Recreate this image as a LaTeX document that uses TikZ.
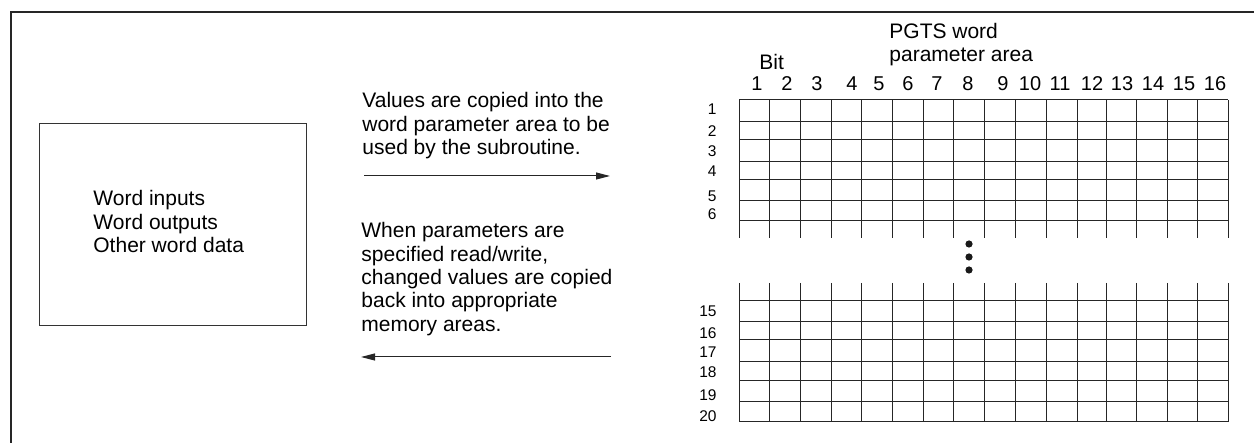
\documentclass[tikz,border=0pt]{standalone}
\usepackage{fontspec}
\setmainfont{Liberation Sans}
\usetikzlibrary{arrows.meta}
\begin{document}
\begin{tikzpicture}[x=0.5pt,y=-0.5pt,
  txt/.style={font=\fontsize{10.5}{11.75}\selectfont, inner sep=0, align=left},
  rowlbl/.style={font=\fontsize{7.75}{9}\selectfont, inner sep=0, anchor=base east},
  collbl/.style={font=\fontsize{10}{12}\selectfont, inner sep=0, anchor=base},
  gridline/.style={line width=0.5pt, draw=black!85},
  flow/.style={line width=0.5pt, draw=black!85, -{Triangle[length=7pt,width=3.5pt]}},
  dotmark/.style={fill=black!90, draw=none}]
\useasboundingbox (0,0) rectangle (1254,443);
% frame
\draw[line width=1pt, black!85] (11,443) -- (11,12) -- (1254,12);
% memory box
\node[draw=black!80, line width=0.5pt, minimum width=133.5pt, minimum height=101pt,
      anchor=north west, inner sep=0] (mem) at (39,123) {};
\node[txt, anchor=base west] (memtxt) at (93,252.7) {Word inputs\\Word outputs\\Other word data};
% texts
\node[txt, anchor=base west] (uptxt) at (362,155) {Values are copied into the\\word parameter area to be\\used by the subroutine.};
\node[txt, anchor=base west] (lowtxt) at (361,331.5) {When parameters are\\specified read/write,\\changed values are copied\\back into appropriate\\memory areas.};
% arrows
\coordinate (a1s) at (364,176);
\coordinate (a1e) at (610,176);
\coordinate (a2s) at (611,357);
\coordinate (a2e) at (361,357);
\draw[flow] (a1s) -- (a1e);
\draw[flow] (a2s) -- (a2e);
% header
\node[txt, anchor=base west] (title) at (889,62) {PGTS word\\parameter area};
\node[txt, anchor=base west] (bit) at (759,70) {Bit};
\foreach \n/\x in {1/757,2/787,3/817,4/852,5/879,6/908,7/937,8/968,9/1003,10/1030,11/1060,12/1092,13/1122,14/1153,15/1184,16/1215}
  \node[collbl] (c\n) at (\x,90.5) {\n};
% grid top
\foreach \x in {739,769,800,831,861,892,923,953,984,1015,1046,1077,1106,1136,1167,1197,1228}
  \draw[gridline] (\x,100) -- (\x,238);
\foreach \y in {100,122,140,162,180,201,221}
  \draw[gridline] (739,\y) -- (1228,\y);
% grid bottom
\foreach \x in {739,769,800,831,861,892,923,953,984,1015,1046,1077,1106,1136,1167,1197,1228}
  \draw[gridline] (\x,283) -- (\x,422);
\foreach \y in {301,322,340,362,381,402,422}
  \draw[gridline] (739,\y) -- (1228,\y);
% row labels
\foreach \n/\y in {1/114.5,2/136.5,3/156.5,4/176.5,5/201.5,6/219.5,15/316.5,16/338.5,17/357.5,18/377.5,19/400.5,20/421.5}
  \node[rowlbl] (r\n) at (717,\y) {\n};
% ellipsis dots
\foreach \y in {244,257,270}
  \fill[dotmark] (969,\y) circle[radius=1.8pt];
\end{tikzpicture}
\end{document}
